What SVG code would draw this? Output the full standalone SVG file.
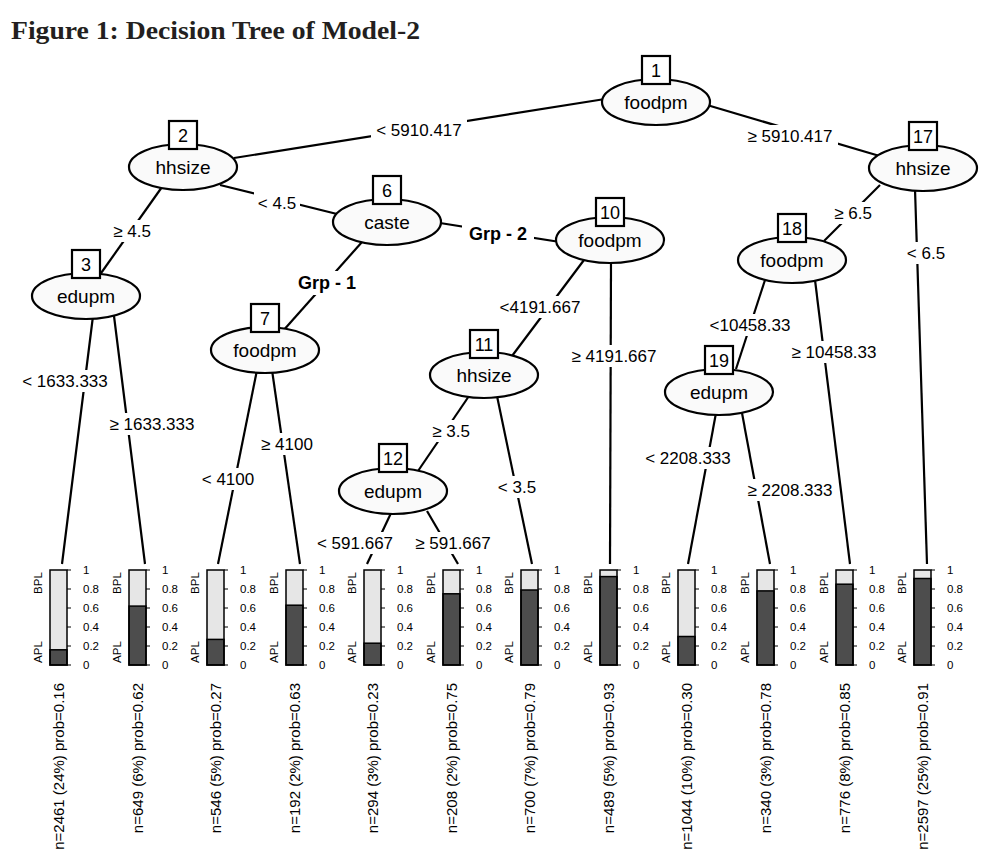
<svg xmlns="http://www.w3.org/2000/svg" width="986" height="858" viewBox="0 0 986 858">
<style>
  .edge{stroke:#000;stroke-width:2.2;fill:none}
  .lbg{fill:#fff;stroke:none}
  .lbl{font-family:"Liberation Sans",Arial,sans-serif;font-size:17px;text-anchor:middle;fill:#000}
  .bold{font-weight:bold;font-size:18px}
  .node ellipse{fill:#fafafa;stroke:#000;stroke-width:2.2}
  .node rect{fill:#fff;stroke:#000;stroke-width:2.2}
  .nlab{font-family:"Liberation Sans",Arial,sans-serif;font-size:19px;text-anchor:middle;fill:#000}
  .nid{font-family:"Liberation Sans",Arial,sans-serif;font-size:18px;text-anchor:middle;fill:#000}
  .light{fill:#e6e6e6;stroke:none}
  .dark{fill:#4d4d4d;stroke:#000;stroke-width:1.5}
  .frame{fill:none;stroke:#000;stroke-width:1.5}
  .tick{stroke:#000;stroke-width:1}
  .tl{font-family:"Liberation Sans",Arial,sans-serif;font-size:11.5px;fill:#000}
  .cl{font-family:"Liberation Sans",Arial,sans-serif;font-size:11.5px;fill:#000;text-anchor:middle}
  .info{font-family:"Liberation Sans",Arial,sans-serif;font-size:15px;fill:#000;text-anchor:end}
  .title{font-family:"Liberation Serif","Times New Roman",serif;font-size:26px;font-weight:bold;fill:#231f20}
</style>
<defs>
  <g id="axis">
    <line class="tick" x1="17" y1="0" x2="21" y2="0"/>
    <line class="tick" x1="17" y1="19" x2="21" y2="19"/>
    <line class="tick" x1="17" y1="38" x2="21" y2="38"/>
    <line class="tick" x1="17" y1="57" x2="21" y2="57"/>
    <line class="tick" x1="17" y1="76" x2="21" y2="76"/>
    <line class="tick" x1="17" y1="95" x2="21" y2="95"/>
    <text class="tl" x="33" y="4">1</text>
    <text class="tl" x="33" y="23">0.8</text>
    <text class="tl" x="33" y="42">0.6</text>
    <text class="tl" x="33" y="61">0.4</text>
    <text class="tl" x="33" y="80">0.2</text>
    <text class="tl" x="33" y="99">0</text>
    <text class="cl" transform="translate(-8,13) rotate(-90)">BPL</text>
    <text class="cl" transform="translate(-8,82) rotate(-90)">APL</text>
  </g>
</defs>
<rect width="986" height="858" fill="#fff"/>
<text class="title" x="11" y="39" textLength="409" lengthAdjust="spacingAndGlyphs">Figure 1: Decision Tree of Model-2</text>

<g id="connectors">
  <line class="edge" x1="605" y1="99" x2="234" y2="158"/>
  <line class="edge" x1="707" y1="105" x2="883" y2="157"/>
  <line class="edge" x1="162" y1="187" x2="99" y2="276"/>
  <line class="edge" x1="220" y1="185" x2="337" y2="214"/>
  <line class="edge" x1="362" y1="242" x2="282" y2="332"/>
  <line class="edge" x1="440" y1="223" x2="560" y2="242"/>
  <line class="edge" x1="584" y1="260" x2="512" y2="356"/>
  <line class="edge" x1="611" y1="262" x2="610" y2="564"/>
  <line class="edge" x1="469" y1="396" x2="418" y2="471"/>
  <line class="edge" x1="497" y1="396" x2="532" y2="564"/>
  <line class="edge" x1="392" y1="511" x2="367" y2="564"/>
  <line class="edge" x1="427" y1="511" x2="458" y2="564"/>
  <line class="edge" x1="257" y1="370" x2="218" y2="564"/>
  <line class="edge" x1="272" y1="370" x2="300" y2="564"/>
  <line class="edge" x1="93" y1="316" x2="62" y2="564"/>
  <line class="edge" x1="114" y1="316" x2="145" y2="564"/>
  <line class="edge" x1="880" y1="185" x2="824" y2="241"/>
  <line class="edge" x1="915" y1="189" x2="927" y2="564"/>
  <line class="edge" x1="765" y1="280" x2="736" y2="369"/>
  <line class="edge" x1="815" y1="280" x2="850" y2="564"/>
  <line class="edge" x1="716" y1="413" x2="688" y2="564"/>
  <line class="edge" x1="742" y1="413" x2="770" y2="564"/>

  <rect class="lbg" x="371" y="119" width="96" height="22"/><text class="lbl" x="419" y="136">&lt; 5910.417</text>
  <rect class="lbg" x="742" y="125" width="96" height="22"/><text class="lbl" x="790" y="142">≥ 5910.417</text>
  <rect class="lbg" x="109" y="220" width="46" height="22"/><text class="lbl" x="132" y="237">≥ 4.5</text>
  <rect class="lbg" x="254" y="192" width="46" height="22"/><text class="lbl" x="277" y="209">&lt; 4.5</text>
  <rect class="lbg" x="17" y="370" width="96" height="22"/><text class="lbl" x="65" y="387">&lt; 1633.333</text>
  <rect class="lbg" x="104" y="413" width="96" height="22"/><text class="lbl" x="152" y="430">≥ 1633.333</text>
  <rect class="lbg" x="291" y="271" width="72" height="24"/><text class="lbl bold" x="327" y="289">Grp - 1</text>
  <rect class="lbg" x="462" y="222" width="72" height="24"/><text class="lbl bold" x="498" y="240">Grp - 2</text>
  <rect class="lbg" x="495" y="296" width="90" height="22"/><text class="lbl" x="540" y="313">&lt;4191.667</text>
  <rect class="lbg" x="566" y="345" width="96" height="22"/><text class="lbl" x="614" y="362">≥ 4191.667</text>
  <rect class="lbg" x="428" y="420" width="46" height="22"/><text class="lbl" x="451" y="437">≥ 3.5</text>
  <rect class="lbg" x="494" y="476" width="46" height="22"/><text class="lbl" x="517" y="493">&lt; 3.5</text>
  <rect class="lbg" x="312" y="532" width="86" height="22"/><text class="lbl" x="355" y="549">&lt; 591.667</text>
  <rect class="lbg" x="410" y="532" width="86" height="22"/><text class="lbl" x="453" y="549">≥ 591.667</text>
  <rect class="lbg" x="197" y="468" width="62" height="22"/><text class="lbl" x="228" y="485">&lt; 4100</text>
  <rect class="lbg" x="256" y="433" width="62" height="22"/><text class="lbl" x="287" y="450">≥ 4100</text>
  <rect class="lbg" x="830" y="202" width="46" height="22"/><text class="lbl" x="853" y="219">≥ 6.5</text>
  <rect class="lbg" x="903" y="242" width="46" height="22"/><text class="lbl" x="926" y="259">&lt; 6.5</text>
  <rect class="lbg" x="705" y="314" width="90" height="22"/><text class="lbl" x="750" y="331">&lt;10458.33</text>
  <rect class="lbg" x="786" y="341" width="96" height="22"/><text class="lbl" x="834" y="358">≥ 10458.33</text>
  <rect class="lbg" x="640" y="447" width="96" height="22"/><text class="lbl" x="688" y="464">&lt; 2208.333</text>
  <rect class="lbg" x="742" y="479" width="96" height="22"/><text class="lbl" x="790" y="496">≥ 2208.333</text>
</g>

<g id="node1" class="node"><ellipse cx="656" cy="102" rx="54" ry="23"/><text class="nlab" x="656" y="109">foodpm</text><rect x="642" y="56" width="28" height="28"/><text class="nid" x="656" y="77">1</text></g>
<g id="node2" class="node"><ellipse cx="183" cy="167" rx="54" ry="23"/><text class="nlab" x="183" y="174">hhsize</text><rect x="169" y="121" width="28" height="28"/><text class="nid" x="183" y="142">2</text></g>
<g id="node3" class="node"><ellipse cx="86" cy="296" rx="54" ry="23"/><text class="nlab" x="86" y="303">edupm</text><rect x="72" y="250" width="28" height="28"/><text class="nid" x="86" y="271">3</text></g>
<g id="node6" class="node"><ellipse cx="387" cy="222" rx="54" ry="23"/><text class="nlab" x="387" y="229">caste</text><rect x="373" y="176" width="28" height="28"/><text class="nid" x="387" y="197">6</text></g>
<g id="node7" class="node"><ellipse cx="265" cy="350" rx="54" ry="23"/><text class="nlab" x="265" y="357">foodpm</text><rect x="251" y="304" width="28" height="28"/><text class="nid" x="265" y="325">7</text></g>
<g id="node10" class="node"><ellipse cx="610" cy="240" rx="54" ry="23"/><text class="nlab" x="610" y="247">foodpm</text><rect x="596" y="198" width="28" height="28"/><text class="nid" x="610" y="219">10</text></g>
<g id="node11" class="node"><ellipse cx="484" cy="375" rx="54" ry="23"/><text class="nlab" x="484" y="382">hhsize</text><rect x="470" y="330" width="28" height="28"/><text class="nid" x="484" y="351">11</text></g>
<g id="node12" class="node"><ellipse cx="393" cy="491" rx="54" ry="23"/><text class="nlab" x="393" y="498">edupm</text><rect x="379" y="444" width="28" height="28"/><text class="nid" x="393" y="465">12</text></g>
<g id="node17" class="node"><ellipse cx="923" cy="168" rx="54" ry="23"/><text class="nlab" x="923" y="175">hhsize</text><rect x="909" y="122" width="28" height="28"/><text class="nid" x="923" y="143">17</text></g>
<g id="node18" class="node"><ellipse cx="792" cy="260" rx="54" ry="23"/><text class="nlab" x="792" y="267">foodpm</text><rect x="778" y="214" width="28" height="28"/><text class="nid" x="792" y="235">18</text></g>
<g id="node19" class="node"><ellipse cx="719" cy="392" rx="54" ry="23"/><text class="nlab" x="719" y="399">edupm</text><rect x="705" y="346" width="28" height="28"/><text class="nid" x="719" y="367">19</text></g>

<g id="node4" transform="translate(50,570)"><rect class="light" width="17" height="95"/><rect class="dark" y="79.8" width="17" height="15.2"/><rect class="frame" width="17" height="95"/><use href="#axis"/></g>
<g id="node5" transform="translate(129,570)"><rect class="light" width="17" height="95"/><rect class="dark" y="36.1" width="17" height="58.9"/><rect class="frame" width="17" height="95"/><use href="#axis"/></g>
<g id="node8" transform="translate(207,570)"><rect class="light" width="17" height="95"/><rect class="dark" y="69.4" width="17" height="25.6"/><rect class="frame" width="17" height="95"/><use href="#axis"/></g>
<g id="node9" transform="translate(286,570)"><rect class="light" width="17" height="95"/><rect class="dark" y="35.2" width="17" height="59.8"/><rect class="frame" width="17" height="95"/><use href="#axis"/></g>
<g id="node13" transform="translate(364,570)"><rect class="light" width="17" height="95"/><rect class="dark" y="73.2" width="17" height="21.8"/><rect class="frame" width="17" height="95"/><use href="#axis"/></g>
<g id="node14" transform="translate(443,570)"><rect class="light" width="17" height="95"/><rect class="dark" y="23.8" width="17" height="71.2"/><rect class="frame" width="17" height="95"/><use href="#axis"/></g>
<g id="node15" transform="translate(521,570)"><rect class="light" width="17" height="95"/><rect class="dark" y="20" width="17" height="75"/><rect class="frame" width="17" height="95"/><use href="#axis"/></g>
<g id="node16" transform="translate(600,570)"><rect class="light" width="17" height="95"/><rect class="dark" y="6.6" width="17" height="88.4"/><rect class="frame" width="17" height="95"/><use href="#axis"/></g>
<g id="node20" transform="translate(678,570)"><rect class="light" width="17" height="95"/><rect class="dark" y="66.5" width="17" height="28.5"/><rect class="frame" width="17" height="95"/><use href="#axis"/></g>
<g id="node21" transform="translate(757,570)"><rect class="light" width="17" height="95"/><rect class="dark" y="20.9" width="17" height="74.1"/><rect class="frame" width="17" height="95"/><use href="#axis"/></g>
<g id="node22" transform="translate(836,570)"><rect class="light" width="17" height="95"/><rect class="dark" y="14.2" width="17" height="80.8"/><rect class="frame" width="17" height="95"/><use href="#axis"/></g>
<g id="node23" transform="translate(914,570)"><rect class="light" width="17" height="95"/><rect class="dark" y="8.5" width="17" height="86.5"/><rect class="frame" width="17" height="95"/><use href="#axis"/></g>

<g id="leaf-info">
  <text class="info" transform="translate(64,683) rotate(-90)">n=2461 (24%) prob=0.16</text>
  <text class="info" transform="translate(143,683) rotate(-90)">n=649 (6%) prob=0.62</text>
  <text class="info" transform="translate(221,683) rotate(-90)">n=546 (5%) prob=0.27</text>
  <text class="info" transform="translate(300,683) rotate(-90)">n=192 (2%) prob=0.63</text>
  <text class="info" transform="translate(378,683) rotate(-90)">n=294 (3%) prob=0.23</text>
  <text class="info" transform="translate(457,683) rotate(-90)">n=208 (2%) prob=0.75</text>
  <text class="info" transform="translate(535,683) rotate(-90)">n=700 (7%) prob=0.79</text>
  <text class="info" transform="translate(614,683) rotate(-90)">n=489 (5%) prob=0.93</text>
  <text class="info" transform="translate(692,683) rotate(-90)">n=1044 (10%) prob=0.30</text>
  <text class="info" transform="translate(771,683) rotate(-90)">n=340 (3%) prob=0.78</text>
  <text class="info" transform="translate(850,683) rotate(-90)">n=776 (8%) prob=0.85</text>
  <text class="info" transform="translate(928,683) rotate(-90)">n=2597 (25%) prob=0.91</text>
</g>
</svg>
